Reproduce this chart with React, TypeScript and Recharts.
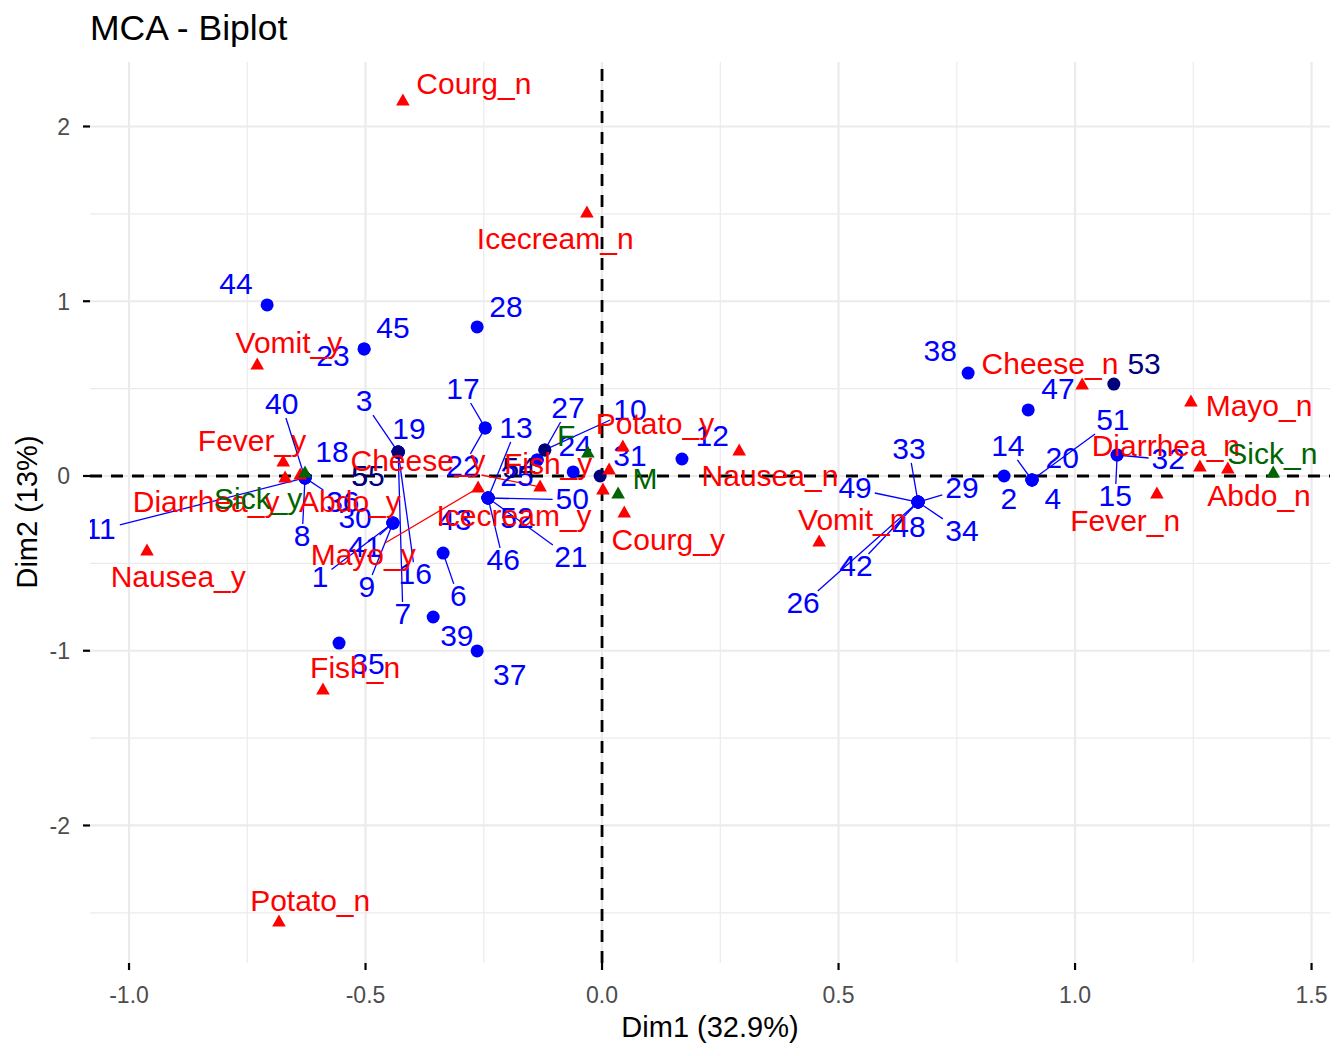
import React from 'react';
import { ScatterChart, Scatter, XAxis, YAxis, ReferenceLine } from 'recharts';

// ---------------- data ----------------
const indIds = [
  '1','2','3','4','5','6','7','8','9','10','11','12','13','14','15','16','17','18','19','20',
  '21','22','23','24','25','26','27','28','29','30','31','32','33','34','35','36','37','38','39','40',
  '41','42','43','44','45','46','47','48','49','50','51','52','53','54','55',
];
const indDim1 = [
  -0.442, 0.850, -0.431, 0.909, -0.431, -0.336, -0.431, -0.628, -0.442, -0.121,
  -0.628, 0.169, -0.241, 0.909, 1.089, -0.431, -0.247, -0.628, -0.431, 0.909,
  -0.241, -0.247, -0.503, -0.061, -0.137, 0.668, -0.121, -0.264, 0.668, -0.442,
  -0.004, 1.089, 0.668, 0.668, -0.556, -0.628, -0.264, 0.774, -0.357, -0.628,
  -0.442, 0.668, -0.241, -0.708, -0.503, -0.241, 0.901, 0.668, 0.668, -0.241,
  0.909, -0.241, 1.082, -0.137, -0.431,
];
const indDim2 = [
  -0.269, 0.000, 0.137, -0.023, 0.137, -0.441, 0.137, -0.011, -0.269, 0.149,
  -0.011, 0.097, -0.126, -0.023, 0.120, 0.137, 0.275, -0.011, 0.137, -0.023,
  -0.126, 0.275, 0.727, 0.023, 0.092, -0.149, 0.149, 0.853, -0.149, -0.269,
  0.000, 0.120, -0.149, -0.149, -0.956, -0.011, -1.001, 0.589, -0.807, -0.011,
  -0.269, -0.149, -0.126, 0.979, 0.727, -0.126, 0.378, -0.149, -0.149, -0.126,
  -0.023, -0.126, 0.526, 0.092, 0.137,
];
const indLabelDim1 = [
  -0.596, 0.860, -0.503, 0.953, -0.512, -0.304, -0.421, -0.634, -0.497, 0.059,
  -1.061, 0.233, -0.182, 0.858, 1.085, -0.395, -0.294, -0.571, -0.408, 0.973,
  -0.066, -0.294, -0.569, -0.057, -0.180, 0.425, -0.072, -0.203, 0.761, -0.522,
  0.059, 1.197, 0.649, 0.761, -0.495, -0.548, -0.195, 0.715, -0.307, -0.677,
  -0.501, 0.537, -0.311, -0.774, -0.442, -0.209, 0.964, 0.649, 0.535, -0.063,
  1.080, -0.180, 1.146, -0.175, -0.495,
];
const indLabelDim2 = [
  -0.584, -0.137, 0.423, -0.137, -0.006, -0.692, -0.795, -0.349, -0.641, 0.372,
  -0.309, 0.223, 0.269, 0.166, -0.120, -0.567, 0.492, 0.132, 0.263, 0.097,
  -0.469, 0.052, 0.681, 0.166, -0.006, -0.732, 0.383, 0.961, -0.074, -0.246,
  0.109, 0.092, 0.149, -0.320, -1.082, -0.155, -1.144, 0.710, -0.921, 0.406,
  -0.412, -0.521, -0.258, 1.093, 0.841, -0.486, 0.492, -0.298, -0.074, -0.137,
  0.315, -0.246, 0.635, 0.040, -0.006,
];
const indWithSegment = [
  '1','3','6','7','8','9','10','11','13','14','15','16','17','21','22','26','27','29',
  '32','33','34','36','40','41','42','46','49','50','51',
];
const indDarkDots = ['19', '27', '31', '53'];
const indDarkLabels = ['5', '53', '54', '55'];

const varNames = [
  'Courg_n', 'Icecream_n', 'Vomit_y', 'Fever_y', 'Diarrhea_y', 'Abdo_y', 'Nausea_y', 'Mayo_y',
  'Cheese_y', 'Fish_y', 'Potato_y', 'Icecream_y', 'Courg_y', 'Nausea_n', 'Vomit_n', 'Fish_n',
  'Potato_n', 'Cheese_n', 'Mayo_n', 'Diarrhea_n', 'Abdo_n', 'Fever_n',
];
const varDim1 = [
  -0.421, -0.032, -0.729, -0.674, -0.670, -0.638, -0.962, -0.262,
  -0.131, 0.015, 0.044, 0.002, 0.047, 0.290, 0.459, -0.590,
  -0.683, 1.015, 1.245, 1.264, 1.323, 1.173,
];
const varDim2 = [
  2.146, 1.505, 0.635, 0.080, -0.011, 0.006, -0.429, -0.069,
  -0.063, 0.034, 0.166, -0.080, -0.212, 0.143, -0.378, -1.225,
  -2.552, 0.521, 0.423, 0.052, 0.040, -0.103,
];
const varLabelDim1 = [
  -0.271, -0.099, -0.662, -0.740, -0.837, -0.533, -0.896, -0.505,
  -0.389, -0.114, 0.112, -0.186, 0.140, 0.355, 0.529, -0.522,
  -0.617, 0.947, 1.389, 1.192, 1.389, 1.106,
];
const varLabelDim2 = [
  2.237, 1.350, 0.755, 0.195, -0.155, -0.155, -0.584, -0.458,
  0.080, 0.063, 0.292, -0.235, -0.372, -0.006, -0.258, -1.104,
  -2.438, 0.635, 0.395, 0.166, -0.120, -0.263,
];
const varWithSegment = ['Mayo_y', 'Cheese_y'];

const supNames = ['Sick_y', 'Sick_n', 'F', 'M'];
const supDim1 = [-0.628, 1.419, -0.030, 0.034];
const supDim2 = [0.017, 0.017, 0.132, -0.103];
const supLabelDim1 = [-0.727, 1.417, -0.076, 0.091];
const supLabelDim2 = [-0.137, 0.120, 0.223, -0.023];

const xTicks = [-1, -0.5, 0, 0.5, 1, 1.5];
const yTicks = [-2, -1, 0, 1, 2];
const xMinorTicks = [-0.75, -0.25, 0.25, 0.75, 1.25];
const yMinorTicks = [-2.5, -1.5, -0.5, 0.5, 1.5];

const TITLE = 'MCA - Biplot';
const X_TITLE = 'Dim1 (32.9%)';
const Y_TITLE = 'Dim2 (13%)';

// ---------------- layout / style ----------------
const FONT = '"Liberation Sans", Arial, Helvetica, sans-serif';
const BLUE = '#0000FF';
const NAVY = '#00007A';
const RED = '#FF0000';
const GREEN = '#006400';
const GRID = '#EBEBEB';

const CHART_W = 1344;
const CHART_H = 1056;
const MARGIN = { top: 62, right: 14, bottom: 33, left: 0 };
const Y_AXIS_W = 90;
const X_AXIS_H = 60;
const X_DOMAIN: [number, number] = [-1.0825, 1.539];
const Y_DOMAIN: [number, number] = [-2.787, 2.369];
const LABEL_SIZE = 30;

const plotW = CHART_W - MARGIN.left - MARGIN.right - Y_AXIS_W;
const plotH = CHART_H - MARGIN.top - MARGIN.bottom - X_AXIS_H;
const kx = plotW / (X_DOMAIN[1] - X_DOMAIN[0]);
const ky = plotH / (Y_DOMAIN[1] - Y_DOMAIN[0]);

const charW = (c: string) => {
  if (/[0-9_]/.test(c)) return 0.556;
  if (/[A-Z]/.test(c)) return 0.68;
  if (/[il]/.test(c)) return 0.23;
  if (/[rt]/.test(c)) return 0.31;
  if (c === 'm') return 0.833;
  return 0.53;
};
const textW = (s: string) => s.split('').reduce((a, c) => a + charW(c), 0) * LABEL_SIZE;

// end of leader segment: where the line from the label centre to the point leaves the label box
function segmentEnd(px: number, py: number, lx: number, ly: number, text: string) {
  const dxp = (px - lx) * kx;
  const dyp = (py - ly) * ky;
  const hw = textW(text) / 2 + 3;
  const hh = 13;
  const tx = Math.abs(dxp) < 1e-9 ? Infinity : hw / Math.abs(dxp);
  const ty = Math.abs(dyp) < 1e-9 ? Infinity : hh / Math.abs(dyp);
  const t = Math.min(tx, ty, 1);
  return { x: lx + (px - lx) * t, y: ly + (py - ly) * t };
}

type Row = { name: string; x: number; y: number; lx: number; ly: number };

const indRows: Row[] = indIds.map((name, i) => ({
  name, x: indDim1[i], y: indDim2[i], lx: indLabelDim1[i], ly: indLabelDim2[i],
}));
const varRows: Row[] = varNames.map((name, i) => ({
  name, x: varDim1[i], y: varDim2[i], lx: varLabelDim1[i], ly: varLabelDim2[i],
}));
const supRows: Row[] = supNames.map((name, i) => ({
  name, x: supDim1[i], y: supDim2[i], lx: supLabelDim1[i], ly: supLabelDim2[i],
}));

const indDotData = [...indRows].sort(
  (a, b) => Number(indDarkDots.includes(a.name)) - Number(indDarkDots.includes(b.name)),
);
const labelData = (rows: Row[]) => rows.map((r) => ({ x: r.lx, y: r.ly, name: r.name }));

const circleShape = (p: any) => (
  <circle cx={p.cx} cy={p.cy} r={6.5} fill={indDarkDots.includes(p.payload.name) ? NAVY : BLUE} />
);
const triangleShape = (color: string) => (p: any) => (
  <polygon
    points={`${p.cx},${p.cy - 7.5} ${p.cx - 6.8},${p.cy + 4.5} ${p.cx + 6.8},${p.cy + 4.5}`}
    fill={color}
  />
);
const labelShape = (colorOf: (n: string) => string) => (p: any) => (
  <text
    x={p.cx}
    y={p.cy}
    dy={LABEL_SIZE * 0.3}
    textAnchor="middle"
    fontSize={LABEL_SIZE}
    fontFamily={FONT}
    fill={colorOf(p.payload.name)}
  >
    {p.payload.name}
  </text>
);

const XTick = (p: any) => (
  <text x={p.x} y={p.y} dy={33} textAnchor="middle" fontSize={23} fontFamily={FONT} fill="#4D4D4D">
    {Number(p.payload.value).toFixed(1)}
  </text>
);
const YTick = (p: any) => (
  <text x={p.x} y={p.y} dy={8.3} textAnchor="end" fontSize={23} fontFamily={FONT} fill="#4D4D4D">
    {String(p.payload.value)}
  </text>
);

const segments = (rows: Row[], withSeg: string[], color: string, key: string) =>
  rows
    .filter((r) => withSeg.includes(r.name))
    .map((r) => {
      const e = segmentEnd(r.x, r.y, r.lx, r.ly, r.name);
      return (
        <ReferenceLine
          key={`${key}-${r.name}`}
          segment={[{ x: r.x, y: r.y }, { x: e.x, y: e.y }]}
          stroke={color}
          strokeWidth={1.3}
          ifOverflow="visible"
        />
      );
    });

const gridLines = () => [
  ...xMinorTicks.map((v) => <ReferenceLine key={`gxm${v}`} x={v} stroke={GRID} strokeWidth={1.2} />),
  ...yMinorTicks.map((v) => <ReferenceLine key={`gym${v}`} y={v} stroke={GRID} strokeWidth={1.2} />),
  ...xTicks.map((v) => <ReferenceLine key={`gx${v}`} x={v} stroke={GRID} strokeWidth={2.2} />),
  ...yTicks.map((v) => <ReferenceLine key={`gy${v}`} y={v} stroke={GRID} strokeWidth={2.2} />),
];

export default function App() {
  return (
    <div style={{ position: 'absolute', left: 0, top: 0, width: CHART_W, height: CHART_H, background: '#fff' }}>
      <ScatterChart width={CHART_W} height={CHART_H} margin={MARGIN}>
        <XAxis
          type="number"
          dataKey="x"
          domain={X_DOMAIN}
          ticks={xTicks}
          allowDataOverflow
          height={X_AXIS_H}
          axisLine={false}
          tickSize={7}
          tickMargin={0}
          tickLine={{ stroke: '#000', strokeWidth: 2.2 }}
          tick={<XTick />}
        />
        <YAxis
          type="number"
          dataKey="y"
          domain={Y_DOMAIN}
          ticks={yTicks}
          allowDataOverflow
          width={Y_AXIS_W}
          axisLine={false}
          tickSize={7}
          tickMargin={13}
          tickLine={{ stroke: '#000', strokeWidth: 2.2 }}
          tick={<YTick />}
        />
        {gridLines()}
        <ReferenceLine x={0} stroke="#000" strokeWidth={2.8} strokeDasharray="12 9" />
        <ReferenceLine y={0} stroke="#000" strokeWidth={2.8} strokeDasharray="12 9" />
        {segments(indRows, indWithSegment, BLUE, 'ind')}
        {segments(varRows, varWithSegment, RED, 'var')}
        <Scatter data={indDotData} shape={circleShape} isAnimationActive={false} />
        <Scatter
          data={labelData(indRows)}
          shape={labelShape((n) => (indDarkLabels.includes(n) ? NAVY : BLUE))}
          isAnimationActive={false}
        />
        <Scatter data={varRows} shape={triangleShape(RED)} isAnimationActive={false} />
        <Scatter data={labelData(varRows)} shape={labelShape(() => RED)} isAnimationActive={false} />
        <Scatter data={supRows} shape={triangleShape(GREEN)} isAnimationActive={false} />
        <Scatter data={labelData(supRows)} shape={labelShape(() => GREEN)} isAnimationActive={false} />
      </ScatterChart>
      <svg
        width={CHART_W}
        height={CHART_H}
        style={{ position: 'absolute', left: 0, top: 0, pointerEvents: 'none' }}
      >
        <text x={90} y={40} fontSize={35.5} fontFamily={FONT} fill="#000">{TITLE}</text>
        <text x={710} y={1037} fontSize={29} fontFamily={FONT} fill="#000" textAnchor="middle">{X_TITLE}</text>
        <text
          x={37}
          y={512}
          fontSize={29}
          fontFamily={FONT}
          fill="#000"
          textAnchor="middle"
          transform="rotate(-90 37 512)"
        >
          {Y_TITLE}
        </text>
      </svg>
    </div>
  );
}
